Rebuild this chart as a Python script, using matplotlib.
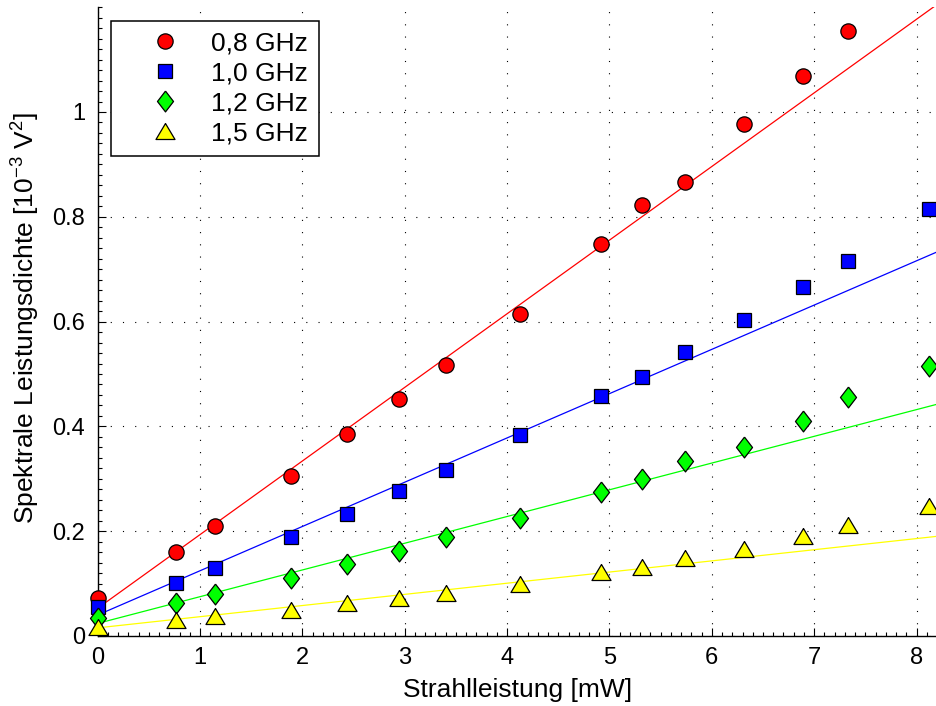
import numpy as np
import matplotlib
matplotlib.use('Agg')
import matplotlib.pyplot as plt
from matplotlib.ticker import MultipleLocator

plt.rcParams['font.family'] = ['Liberation Sans', 'DejaVu Sans']
plt.rcParams['mathtext.fontset'] = 'custom'
plt.rcParams['mathtext.rm'] = 'Liberation Sans'
plt.rcParams['mathtext.it'] = 'Liberation Sans'


# measured points (x in mW, y in 1e-3 V^2)
power_mw = [0.0, 0.76, 1.15, 1.89, 2.44, 2.94, 3.40, 4.13, 4.92, 5.32, 5.74, 6.31, 6.89, 7.33, 8.12]

psd_08 = [0.072, 0.160, 0.210, 0.306, 0.386, 0.453, 0.517, 0.615, 0.748, 0.823, 0.867, 0.977, 1.068, 1.155]
psd_10 = [0.055, 0.102, 0.130, 0.189, 0.233, 0.277, 0.317, 0.383, 0.458, 0.494, 0.541, 0.603, 0.666, 0.716, 0.815]
psd_12 = [0.035, 0.062, 0.080, 0.111, 0.137, 0.163, 0.188, 0.225, 0.274, 0.300, 0.334, 0.360, 0.411, 0.456, 0.516]
psd_15 = [0.018, 0.030, 0.038, 0.050, 0.062, 0.073, 0.082, 0.100, 0.122, 0.132, 0.148, 0.166, 0.190, 0.211, 0.248]

labels = ['0,8 GHz', '1,0 GHz', '1,2 GHz', '1,5 GHz']
colors = [(1, 0, 0), (0, 0, 1), (0, 1, 0), (1, 1, 0)]

# linear fits (slope, intercept)
fit_slope = [0.1405, 0.0845, 0.0510, 0.0213]
fit_icept = [0.053, 0.040, 0.024, 0.0155]

y_ticks = [0, 0.2, 0.4, 0.6, 0.8, 1.0]
y_ticklabels = ['0', '0.2', '0.4', '0.6', '0.8', '1']


# marker shapes like matlab
diamond = [(0, 1), (0.77, 0), (0, -1), (-0.77, 0), (0, 1)]
triangle = [(0, 1), (-1.19, -1), (1.19, -1), (0, 1)]
markers = ['o', 's', diamond, triangle]
msizes = [11, 10, 15, 13.7]

fig = plt.figure(figsize=(9.37, 7.06), dpi=100)
ax = fig.add_axes([0.1043, 0.0992, 0.8957, 0.8906])

ax.set_xlim(0, 8.2)
ax.set_ylim(0, 1.2)

series = [psd_08, psd_10, psd_12, psd_15]
xfit = np.array(ax.get_xlim())
for i in range(4):
    ax.plot(xfit, fit_slope[i] * xfit + fit_icept[i], '-', color=colors[i], lw=0.9, zorder=2)

handles = []
for i in range(4):
    xs = power_mw[:len(series[i])]
    h, = ax.plot(xs, series[i], linestyle='none', marker=markers[i], ms=msizes[i],
                 mfc=colors[i], mec='black', mew=0.9, label=labels[i], zorder=3, clip_on=False)
    handles.append(h)

ax.set_yticks(y_ticks)
ax.set_yticklabels(y_ticklabels)
ax.xaxis.set_major_locator(MultipleLocator(1))
ax.xaxis.set_minor_locator(MultipleLocator(0.1))
ax.yaxis.set_minor_locator(MultipleLocator(0.02))
ax.tick_params(which='both', direction='in', labelsize=17, width=0.8)
ax.tick_params(which='major', length=6)
ax.tick_params(which='minor', length=3)
ax.tick_params(axis='x', pad=8)
ax.tick_params(axis='y', pad=9)

ax.grid(True, which='major', color='black', linestyle=(0, (1, 10)), linewidth=0.8)
ax.spines['top'].set_visible(False)
ax.spines['right'].set_visible(False)
ax.spines['left'].set_linewidth(1.0)
ax.spines['bottom'].set_linewidth(1.0)

ax.set_xlabel('Strahlleistung [mW]', fontsize=19, labelpad=6.5)
ax.set_ylabel(r'Spektrale Leistungsdichte [10$^{-3}$ V$^{2}$]', fontsize=19)
ax.yaxis.set_label_coords(-0.0667, 0.505)

leg = ax.legend(handles=handles, loc='upper left', bbox_to_anchor=(0.0155, 0.978),
                borderaxespad=0, fancybox=False, edgecolor='black', framealpha=1,
                fontsize=19, numpoints=1, handlelength=3.3, handletextpad=0.1,
                borderpad=0.4, labelspacing=0.22)
leg.get_frame().set_linewidth(1.1)

fig.savefig('out.png', dpi=100)
